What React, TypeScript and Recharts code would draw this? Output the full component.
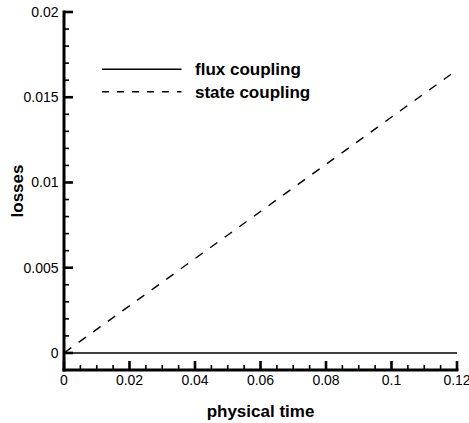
import React from 'react';
import { LineChart, Line, XAxis, YAxis, Legend, Label } from 'recharts';

const time = [0, 0.12];
const fluxCoupling = [0, 0];
const stateCoupling = [0, 0.0166];

const seriesNames = ['flux coupling', 'state coupling'];

const xMajorTicks = [0, 0.02, 0.04, 0.06, 0.08, 0.1, 0.12];
const xTickLabels = ['0', '0.02', '0.04', '0.06', '0.08', '0.1', '0.12'];
const xMinorTicks = [
  0.005, 0.01, 0.015, 0.025, 0.03, 0.035, 0.045, 0.05, 0.055, 0.065, 0.07, 0.075,
  0.085, 0.09, 0.095, 0.105, 0.11, 0.115,
];
const yMajorTicks = [0, 0.005, 0.01, 0.015, 0.02];
const yTickLabels = ['0', '0.005', '0.01', '0.015', '0.02'];
const yMinorTicks = [
  0.001, 0.002, 0.003, 0.004, 0.006, 0.007, 0.008, 0.009, 0.011, 0.012, 0.013, 0.014,
  0.016, 0.017, 0.018, 0.019,
];

const xDomain = [0, 0.12];
const yDomain = [-0.001, 0.02];

const xTitle = 'physical time';
const yTitle = 'losses';

const data = time.map((t, i) => ({ t, flux: fluxCoupling[i], state: stateCoupling[i] }));

const FONT = '"Liberation Sans", Arial, Helvetica, sans-serif';

const MAJOR_LEN = 9;
const MINOR_LEN = 5;
const MAJOR_W = 2.6;
const MINOR_W = 1.6;

const renderXTick = (props: any) => {
  const x = Number(props.x);
  const y = Number(props.y);
  const idx = xMajorTicks.indexOf(props.payload.value);
  const major = idx >= 0;
  const len = major ? MAJOR_LEN : MINOR_LEN;
  const w = major ? MAJOR_W : MINOR_W;
  return (
    <g>
      <rect x={x - w / 2} y={y - len} width={w} height={len} fill="#000" />
      {major && (
        <text x={x} y={y + 15} textAnchor="middle" fontSize={14} fontFamily={FONT} fill="#000" stroke="none">
          {xTickLabels[idx]}
        </text>
      )}
    </g>
  );
};

const renderYTick = (props: any) => {
  const x = Number(props.x);
  const y = Number(props.y);
  const idx = yMajorTicks.indexOf(props.payload.value);
  const major = idx >= 0;
  const len = major ? MAJOR_LEN : MINOR_LEN;
  const w = major ? MAJOR_W : MINOR_W;
  return (
    <g>
      <rect x={x} y={y - w / 2} width={len} height={w} fill="#000" />
      {major && (
        <text x={x - 5.5} y={y + 5} textAnchor="end" fontSize={14} fontFamily={FONT} fill="#000" stroke="none">
          {yTickLabels[idx]}
        </text>
      )}
    </g>
  );
};

const renderXTitle = (props: any) => {
  const vb = props.viewBox || { x: 64, y: 370, width: 393, height: 53 };
  return (
    <text x={vb.x + vb.width / 2} y={vb.y + 46.5} textAnchor="middle" fontSize={17} fontWeight="bold" fontFamily={FONT} fill="#000">
      {xTitle}
    </text>
  );
};

const renderYTitle = (props: any) => {
  const vb = props.viewBox || { x: 4, y: 12, width: 60, height: 358 };
  const cx = vb.x + 19;
  const cy = vb.y + vb.height / 2;
  return (
    <text x={cx} y={cy} transform={`rotate(-90 ${cx} ${cy})`} textAnchor="middle" fontSize={17} fontWeight="bold" fontFamily={FONT} fill="#000">
      {yTitle}
    </text>
  );
};

const renderLegend = () => (
  <svg width={469} height={110} style={{ display: 'block' }}>
    <line x1={102} x2={181.5} y1={69.3} y2={69.3} stroke="#000" strokeWidth={1.4} />
    <line x1={102} x2={181.5} y1={91.7} y2={91.7} stroke="#000" strokeWidth={1.4} strokeDasharray="7 8" />
    <text x={195} y={75.3} fontSize={17} fontWeight="bold" fontFamily={FONT} fill="#000">
      {seriesNames[0]}
    </text>
    <text x={195} y={97.7} fontSize={17} fontWeight="bold" fontFamily={FONT} fill="#000">
      {seriesNames[1]}
    </text>
  </svg>
);

export default function App() {
  return (
    <div style={{ position: 'absolute', left: 0, top: 0, width: 469, height: 423, background: '#fff' }}>
      <LineChart width={469} height={423} data={data} margin={{ top: 12, right: 12, bottom: 0, left: 4 }}>
        <XAxis
          type="number"
          dataKey="t"
          domain={xDomain}
          ticks={[...xMajorTicks, ...xMinorTicks]}
          interval={0}
          tick={renderXTick}
          tickLine={false}
          tickSize={0}
          tickMargin={0}
          height={53}
          axisLine={{ stroke: '#000', strokeWidth: 3, strokeLinecap: 'square' }}
        >
          <Label content={renderXTitle} />
        </XAxis>
        <YAxis
          type="number"
          domain={yDomain}
          ticks={[...yMajorTicks, ...yMinorTicks]}
          interval={0}
          tick={renderYTick}
          tickLine={false}
          tickSize={0}
          tickMargin={0}
          width={60}
          axisLine={{ stroke: '#000', strokeWidth: 3, strokeLinecap: 'square' }}
        >
          <Label content={renderYTitle} />
        </YAxis>
        <Legend
          layout="horizontal"
          verticalAlign="middle"
          align="center"
          wrapperStyle={{ left: 0, top: 0, width: 469, height: 110 }}
          content={renderLegend}
        />
        <Line
          type="linear"
          dataKey="flux"
          name={seriesNames[0]}
          stroke="#000"
          strokeWidth={1.4}
          dot={false}
          activeDot={false}
          isAnimationActive={false}
        />
        <Line
          type="linear"
          dataKey="state"
          name={seriesNames[1]}
          stroke="#000"
          strokeWidth={1.4}
          strokeDasharray="9 9"
          dot={false}
          activeDot={false}
          isAnimationActive={false}
        />
      </LineChart>
    </div>
  );
}
